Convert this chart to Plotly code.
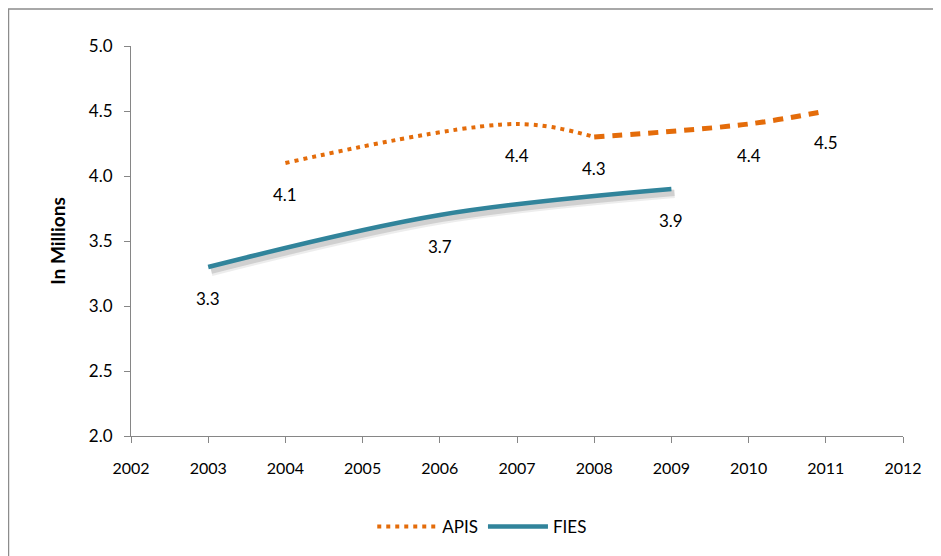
import plotly.graph_objects as go

# APIS survey years (dotted up to 2008, dashed afterwards)
apis_years_a = [2004, 2007, 2008]
apis_vals_a = [4.1, 4.4, 4.3]
apis_years_b = [2008, 2010, 2011]
apis_vals_b = [4.3, 4.4, 4.5]

fies_years = [2003, 2006, 2009]
fies_vals = [3.3, 3.7, 3.9]

apis_label_years = [2004, 2007, 2008, 2010, 2011]
apis_label_vals = [4.1, 4.4, 4.3, 4.4, 4.5]

x_ticks = list(range(2002, 2013))
y_ticks = [2.0, 2.5, 3.0, 3.5, 4.0, 4.5, 5.0]

ORANGE = '#E46C0A'
TEAL = '#31849B'
FONT = 'Lato, Liberation Sans, sans-serif'

fig = go.Figure()

# soft shadow under FIES
for w, op, dy in [(9, 0.10, 0.035), (6, 0.18, 0.03)]:
    fig.add_trace(go.Scatter(
        x=[v + 0.04 for v in fies_years], y=[v - dy for v in fies_vals],
        mode='lines', line=dict(color='rgba(80,80,80,%s)' % op, width=w, shape='spline'),
        showlegend=False, hoverinfo='skip'))

fig.add_trace(go.Scatter(
    x=apis_years_a, y=apis_vals_a, name='APIS', mode='lines',
    line=dict(color=ORANGE, width=4, dash='4px,5px', shape='spline')))
fig.add_trace(go.Scatter(
    x=apis_years_b, y=apis_vals_b, name='APIS', mode='lines', showlegend=False,
    line=dict(color=ORANGE, width=5, dash='10px,8px', shape='spline')))
fig.add_trace(go.Scatter(
    x=fies_years, y=fies_vals, name='FIES', mode='lines',
    line=dict(color=TEAL, width=4.5, shape='spline')))

for xv, yv in zip(apis_label_years + fies_years, apis_label_vals + fies_vals):
    fig.add_annotation(x=xv, y=yv, text='%.1f' % yv, showarrow=False, yshift=-31,
                       font=dict(size=17, color='black', family=FONT))

# outer chart border
fig.add_shape(type='rect', xref='paper', yref='paper', x0=-0.1587, y0=-0.5, x1=1.2, y1=1.095,
              line=dict(color='#8C8C8C', width=1.5), fillcolor='rgba(0,0,0,0)', layer='below')

fig.update_layout(
    width=941, height=556,
    margin=dict(l=123, r=46, t=38, b=128),
    plot_bgcolor='white', paper_bgcolor='white',
    font=dict(family=FONT, size=16, color='black'),
    showlegend=True,
    legend=dict(orientation='h', x=0.455, y=-0.233, xanchor='center', yanchor='middle',
                font=dict(size=17), itemwidth=60),
    xaxis=dict(range=[2002, 2012], tickvals=x_ticks, showgrid=False, zeroline=False,
               showline=True, linecolor='#868686', ticks='outside', ticklen=6,
               tickcolor='#868686', tickfont=dict(size=16), ticklabelstandoff=12),
    yaxis=dict(range=[2.0, 5.0], tickvals=y_ticks, tickformat='.1f', showgrid=False,
               zeroline=False, showline=True, linecolor='#868686', ticks='outside',
               ticklen=6, tickcolor='#868686', tickfont=dict(size=17), ticklabelstandoff=8,
               title=dict(text='<b>In Millions</b>', font=dict(size=19), standoff=18)),
)

fig.write_html('out.html')
